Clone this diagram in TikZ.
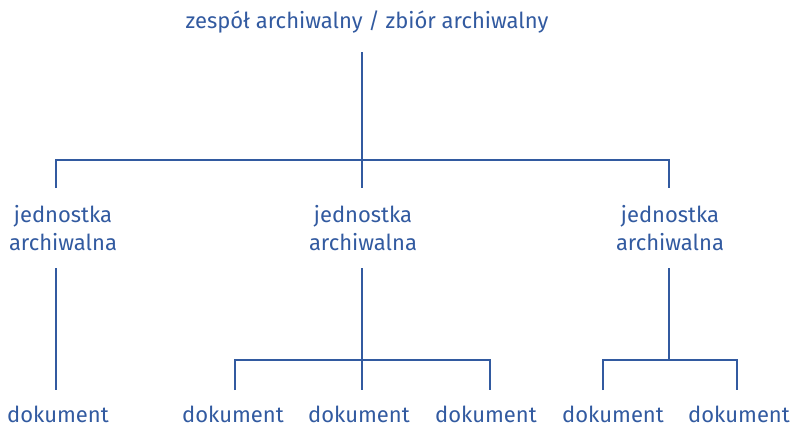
\documentclass[tikz,border=0pt]{standalone}
\usepackage{fontspec}
\setmainfont{Fira Sans}
\definecolor{ablue}{RGB}{50,90,160}
\tikzset{
  lbl/.style={text=ablue,font=\fontsize{16.5}{21}\selectfont,inner sep=0pt},
  lbltwo/.style={lbl,align=center},
  conn/.style={draw=ablue,line width=1.4pt}
}
\begin{document}
\begin{tikzpicture}[x=0.75pt,y=-0.75pt]
\useasboundingbox (0,0) rectangle (793,426);
% texts (baseline positions)
\node[lbl,anchor=base] (top) at (367,28) {zespół archiwalny / zbiór archiwalny};
\node[lbltwo,anchor=base] (j1) at (63,250) {jednostka\\archiwalna};
\node[lbltwo,anchor=base] (j2) at (363,250) {jednostka\\archiwalna};
\node[lbltwo,anchor=base] (j3) at (670,250) {jednostka\\archiwalna};
\node[lbl,anchor=base] (d1) at (58,422) {dokument};
\node[lbl,anchor=base] (d2) at (233,422) {dokument};
\node[lbl,anchor=base] (d3) at (359,422) {dokument};
\node[lbl,anchor=base] (d4) at (486,422) {dokument};
\node[lbl,anchor=base] (d5) at (613,422) {dokument};
\node[lbl,anchor=base] (d6) at (739,422) {dokument};
% connector points
\coordinate (t0) at (362,52);
\coordinate (t1) at (362,160);
\coordinate (a1) at (56,188);
\coordinate (a2) at (362,188);
\coordinate (a3) at (669,188);
\coordinate (b1) at (56,268);
\coordinate (b2) at (362,268);
\coordinate (b3) at (669,268);
\coordinate (m2) at (362,360);
\coordinate (m3) at (669,360);
\coordinate (e1) at (56,390);
\coordinate (e2) at (235,390);
\coordinate (e3) at (362,390);
\coordinate (e4) at (490,390);
\coordinate (e5) at (603,390);
\coordinate (e6) at (737,390);
% tree lines
\draw[conn] (t0) -- (t1);
\draw[conn] (a1) |- (t1) -| (a3);
\draw[conn] (t1) -- (a2);
\draw[conn] (b1) -- (e1);
\draw[conn] (b2) -- (m2);
\draw[conn] (e2) |- (m2) -| (e4);
\draw[conn] (m2) -- (e3);
\draw[conn] (b3) -- (m3);
\draw[conn] (e5) |- (m3) -| (e6);
\end{tikzpicture}
\end{document}
